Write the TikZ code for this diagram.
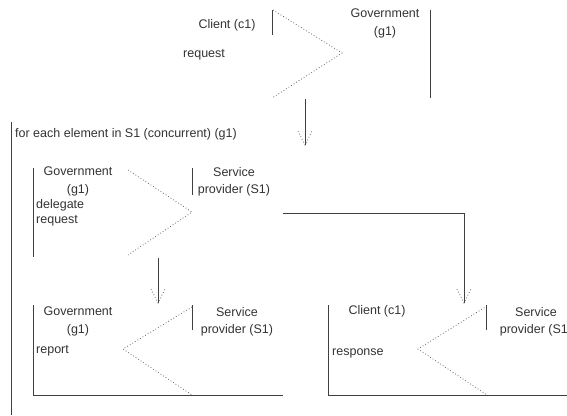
\documentclass[tikz,border=0pt]{standalone}
\usepackage{fontspec}
\setmainfont{Liberation Sans}
\usetikzlibrary{calc}
\begin{document}
\begin{tikzpicture}[x=1pt,y=-1pt,
  line/.style={draw=black!75,line width=0.9pt},
  dots/.style={draw=black!60,line width=0.8pt,dash pattern=on 0.8pt off 2.2pt},
  txt/.style={inner sep=0pt,font=\fontsize{12.5}{17.5}\selectfont,text=black!80},
  lbl/.style={txt,anchor=base west},
  ttl/.style={txt,anchor=base},
  two/.style={txt,align=center,anchor=north}]
\useasboundingbox (0,0) rectangle (567,415);
\newcommand{\vhead}[1]{\draw[dots] ($(#1)+(-7,-14)$) -- (#1) -- ($(#1)+(7,-14)$);}

% ---- request: client to government ----
\node[ttl] (c1a) at (227,28) {Client (c1)};
\node[lbl] (req) at (183,57) {request};
\node[two] (g1a) at (385,9) {Government\\(g1)};
\coordinate (ca1) at (272,10); \coordinate (ca2) at (272,35);
\draw[line] (ca1) -- (ca2);
\coordinate (ra) at (273,10); \coordinate (rb) at (342,53); \coordinate (rc) at (272,98);
\draw[dots] (ra) -- (rb) -- (rc);
\coordinate (ga1) at (430,10); \coordinate (ga2) at (430,98);
\draw[line] (ga1) -- (ga2);

\coordinate (a1s) at (305,99); \coordinate (a1e) at (305,145);
\draw[line] (a1s) -- (a1e);

% ---- loop frame ----
\coordinate (lp1) at (11,122); \coordinate (lp2) at (11,415);
\draw[line] (lp1) -- (lp2);
\node[lbl] (loop) at (15,137) {for each element in S1 (concurrent) (g1)};

% ---- delegate request ----
\node[two] (g1b) at (78,167) {Government\\(g1)};
\node[txt,align=left,anchor=north west,font=\fontsize{12.5}{15.5}\selectfont] (dlg) at (36,199) {delegate\\request};
\node[two] (s1b) at (234,167) {Service\\provider (S1)};
\coordinate (gb1) at (33,168); \coordinate (gb2) at (33,257);
\draw[line] (gb1) -- (gb2);
\coordinate (da) at (128,170); \coordinate (db) at (192,212); \coordinate (dc) at (128,255);
\draw[dots] (da) -- (db) -- (dc);
\coordinate (sb1) at (192,168); \coordinate (sb2) at (192,195);
\draw[line] (sb1) -- (sb2);

\coordinate (br1) at (283,213); \coordinate (br2) at (464,213); \coordinate (br3) at (464,303);
\draw[line] (br1) -- (br2) -- (br3);

\coordinate (a2s) at (158,258); \coordinate (a2e) at (158,303);
\draw[line] (a2s) -- (a2e);

% ---- report ----
\node[two] (g1c) at (78,307) {Government\\(g1)};
\node[lbl] (rep) at (36,353) {report};
\node[two] (s1c) at (237,307) {Service\\provider (S1)};
\coordinate (gc1) at (33,305); \coordinate (gc2) at (33,395); \coordinate (gc3) at (283,395);
\draw[line] (gc1) -- (gc2) -- (gc3);
\coordinate (pa) at (192,307); \coordinate (pb) at (123,349); \coordinate (pc) at (192,395);
\draw[dots] (pa) -- (pb) -- (pc);
\coordinate (sc1) at (192,305); \coordinate (sc2) at (192,330);
\draw[line] (sc1) -- (sc2);

% ---- response ----
\node[ttl] (c1d) at (377,314) {Client (c1)};
\node[lbl] (resp) at (332,355) {response};
\node[two] (s1d) at (536,307) {Service\\provider (S1)};
\coordinate (cd1) at (328,305); \coordinate (cd2) at (328,395); \coordinate (cd3) at (567,395);
\draw[line] (cd1) -- (cd2) -- (cd3);
\coordinate (qa) at (487,306); \coordinate (qb) at (418,349); \coordinate (qc) at (487,395);
\draw[dots] (qa) -- (qb) -- (qc);
\coordinate (sd1) at (486,305); \coordinate (sd2) at (486,330);
\draw[line] (sd1) -- (sd2);

% dotted arrow heads
\vhead{a1e}
\vhead{a2e}
\vhead{br3}
\end{tikzpicture}
\end{document}
